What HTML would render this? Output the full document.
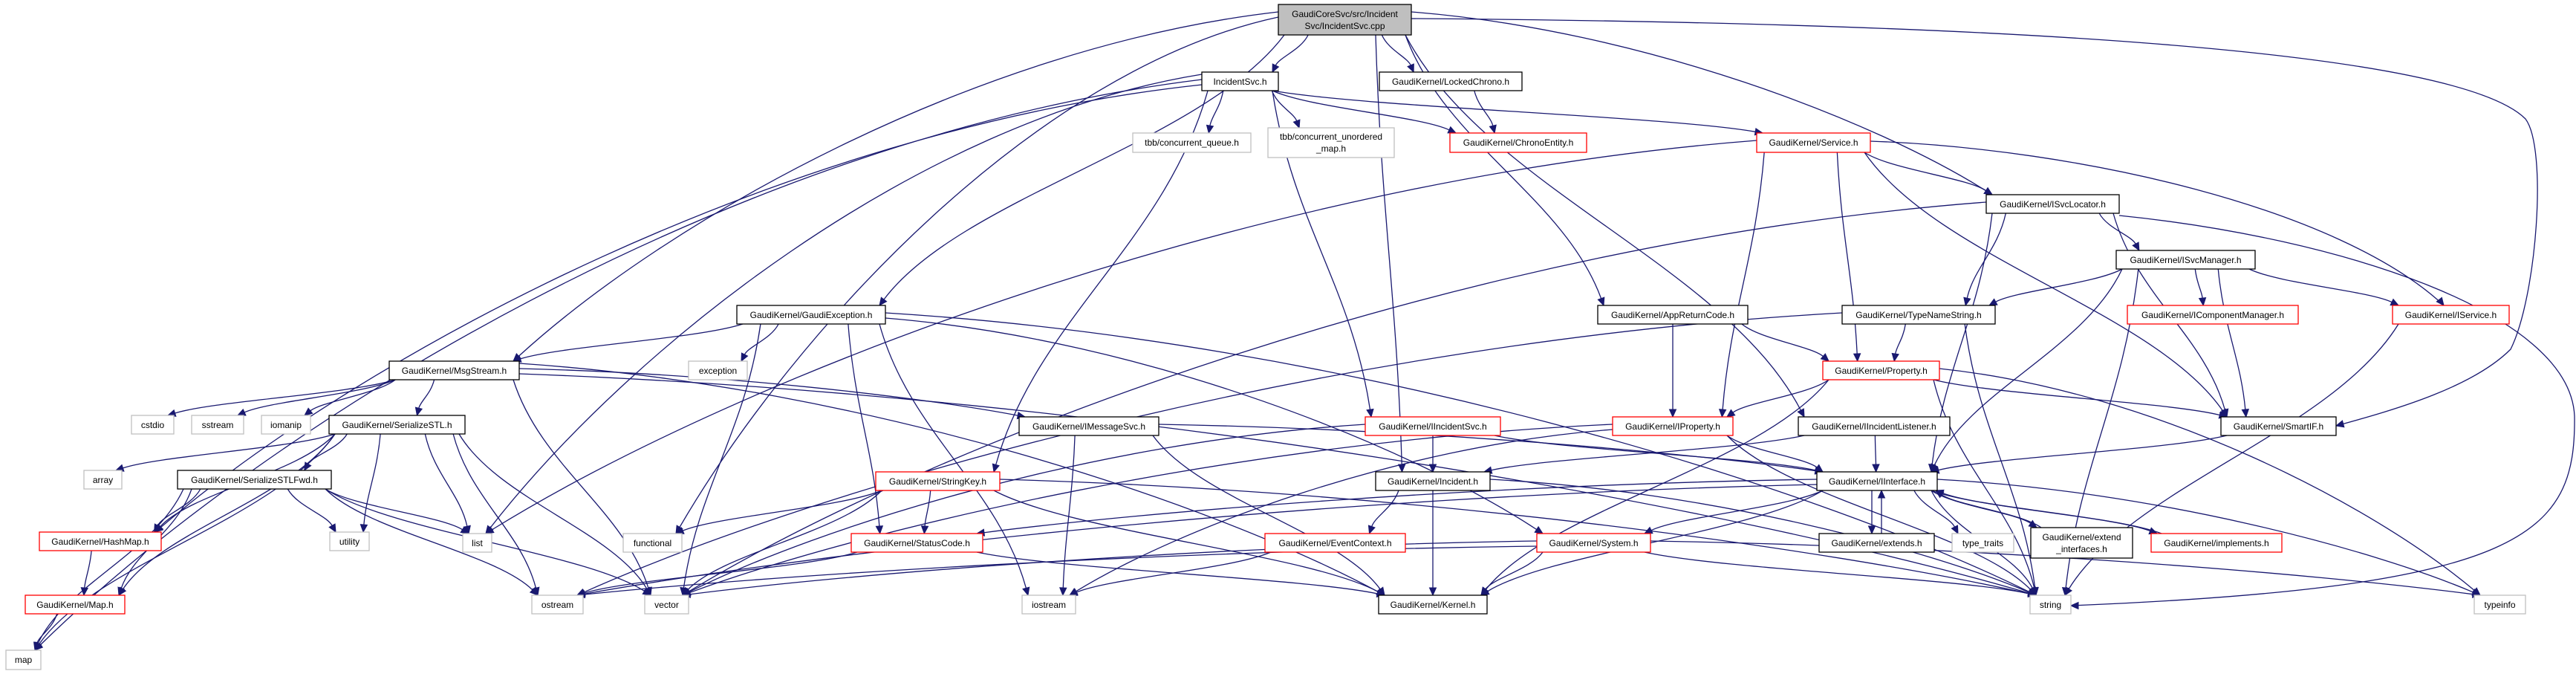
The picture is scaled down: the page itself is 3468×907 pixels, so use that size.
<!DOCTYPE html>
<html><head><meta charset="utf-8">
<style>
html,body{margin:0;padding:0;background:#fff;}
svg{display:block;}
text{font-family:"Liberation Sans",Arial,sans-serif;font-size:12px;fill:#000;}
</style></head>
<body>
<svg id="g" width="3468" height="907" viewBox="0 0 3468 907" xmlns="http://www.w3.org/2000/svg">
<rect width="3468" height="907" fill="#fff"/>
<g id="edges" fill="none" stroke="#191970" stroke-width="1.3"></g>
<g id="arrows" fill="#191970" stroke="#191970"></g>
<g id="nodes" stroke-width="1.3">
<rect x="1721" y="6" width="179" height="41" fill="#bfbfbf" stroke="#000"/><text x="1810.5" y="23" text-anchor="middle">GaudiCoreSvc/src/Incident</text><text x="1810.5" y="39" text-anchor="middle">Svc/IncidentSvc.cpp</text>
<rect x="1618" y="97" width="103" height="25" fill="#fff" stroke="#000"/><text x="1669.5" y="114" text-anchor="middle">IncidentSvc.h</text>
<rect x="1857" y="97" width="192" height="25" fill="#fff" stroke="#000"/><text x="1953" y="114" text-anchor="middle">GaudiKernel/LockedChrono.h</text>
<rect x="1525" y="179" width="159" height="26" fill="#fff" stroke="#bfbfbf"/><text x="1604.5" y="196" text-anchor="middle">tbb/concurrent_queue.h</text>
<rect x="1707" y="172" width="170" height="40" fill="#fff" stroke="#bfbfbf"/><text x="1792" y="188" text-anchor="middle">tbb/concurrent_unordered</text><text x="1792" y="204" text-anchor="middle">_map.h</text>
<rect x="1952" y="179" width="184" height="26" fill="#fff" stroke="#f00"/><text x="2044" y="196" text-anchor="middle">GaudiKernel/ChronoEntity.h</text>
<rect x="2365" y="179" width="153" height="26" fill="#fff" stroke="#f00"/><text x="2441.5" y="196" text-anchor="middle">GaudiKernel/Service.h</text>
<rect x="2674" y="262" width="179" height="25" fill="#fff" stroke="#000"/><text x="2763.5" y="279" text-anchor="middle">GaudiKernel/ISvcLocator.h</text>
<rect x="2849" y="337" width="187" height="25" fill="#fff" stroke="#000"/><text x="2942.5" y="354" text-anchor="middle">GaudiKernel/ISvcManager.h</text>
<rect x="2864" y="411" width="230" height="25" fill="#fff" stroke="#f00"/><text x="2979" y="428" text-anchor="middle">GaudiKernel/IComponentManager.h</text>
<rect x="3221" y="411" width="157" height="25" fill="#fff" stroke="#f00"/><text x="3299.5" y="428" text-anchor="middle">GaudiKernel/IService.h</text>
<rect x="992" y="411" width="200" height="25" fill="#fff" stroke="#000"/><text x="1092" y="428" text-anchor="middle">GaudiKernel/GaudiException.h</text>
<rect x="2151" y="411" width="202" height="25" fill="#fff" stroke="#000"/><text x="2252" y="428" text-anchor="middle">GaudiKernel/AppReturnCode.h</text>
<rect x="2480" y="411" width="206" height="25" fill="#fff" stroke="#000"/><text x="2583" y="428" text-anchor="middle">GaudiKernel/TypeNameString.h</text>
<rect x="524" y="486" width="175" height="25" fill="#fff" stroke="#000"/><text x="611.5" y="503" text-anchor="middle">GaudiKernel/MsgStream.h</text>
<rect x="927" y="486" width="79" height="25" fill="#fff" stroke="#bfbfbf"/><text x="966.5" y="503" text-anchor="middle">exception</text>
<rect x="2454" y="486" width="157" height="25" fill="#fff" stroke="#f00"/><text x="2532.5" y="503" text-anchor="middle">GaudiKernel/Property.h</text>
<rect x="177" y="559" width="57" height="25" fill="#fff" stroke="#bfbfbf"/><text x="205.5" y="576" text-anchor="middle">cstdio</text>
<rect x="258" y="559" width="70" height="25" fill="#fff" stroke="#bfbfbf"/><text x="293" y="576" text-anchor="middle">sstream</text>
<rect x="352" y="559" width="66" height="25" fill="#fff" stroke="#bfbfbf"/><text x="385" y="576" text-anchor="middle">iomanip</text>
<rect x="443" y="559" width="183" height="25" fill="#fff" stroke="#000"/><text x="534.5" y="576" text-anchor="middle">GaudiKernel/SerializeSTL.h</text>
<rect x="1372" y="561" width="188" height="25" fill="#fff" stroke="#000"/><text x="1466" y="578" text-anchor="middle">GaudiKernel/IMessageSvc.h</text>
<rect x="1838" y="561" width="182" height="25" fill="#fff" stroke="#f00"/><text x="1929" y="578" text-anchor="middle">GaudiKernel/IIncidentSvc.h</text>
<rect x="2171" y="561" width="162" height="25" fill="#fff" stroke="#f00"/><text x="2252" y="578" text-anchor="middle">GaudiKernel/IProperty.h</text>
<rect x="2421" y="561" width="204" height="25" fill="#fff" stroke="#000"/><text x="2523" y="578" text-anchor="middle">GaudiKernel/IIncidentListener.h</text>
<rect x="2990" y="561" width="155" height="25" fill="#fff" stroke="#000"/><text x="3067.5" y="578" text-anchor="middle">GaudiKernel/SmartIF.h</text>
<rect x="113" y="633" width="51" height="25" fill="#fff" stroke="#bfbfbf"/><text x="138.5" y="650" text-anchor="middle">array</text>
<rect x="239" y="633" width="207" height="25" fill="#fff" stroke="#000"/><text x="342.5" y="650" text-anchor="middle">GaudiKernel/SerializeSTLFwd.h</text>
<rect x="1179" y="635" width="167" height="25" fill="#fff" stroke="#f00"/><text x="1262.5" y="652" text-anchor="middle">GaudiKernel/StringKey.h</text>
<rect x="1852" y="635" width="154" height="25" fill="#fff" stroke="#000"/><text x="1929" y="652" text-anchor="middle">GaudiKernel/Incident.h</text>
<rect x="2446" y="635" width="162" height="25" fill="#fff" stroke="#000"/><text x="2527" y="652" text-anchor="middle">GaudiKernel/IInterface.h</text>
<rect x="53" y="716" width="164" height="25" fill="#fff" stroke="#f00"/><text x="135" y="733" text-anchor="middle">GaudiKernel/HashMap.h</text>
<rect x="444" y="716" width="53" height="25" fill="#fff" stroke="#bfbfbf"/><text x="470.5" y="733" text-anchor="middle">utility</text>
<rect x="623" y="718" width="39" height="25" fill="#fff" stroke="#bfbfbf"/><text x="642.5" y="735" text-anchor="middle">list</text>
<rect x="839" y="718" width="79" height="25" fill="#fff" stroke="#bfbfbf"/><text x="878.5" y="735" text-anchor="middle">functional</text>
<rect x="1146" y="718" width="177" height="25" fill="#fff" stroke="#f00"/><text x="1234.5" y="735" text-anchor="middle">GaudiKernel/StatusCode.h</text>
<rect x="1703" y="718" width="189" height="25" fill="#fff" stroke="#f00"/><text x="1797.5" y="735" text-anchor="middle">GaudiKernel/EventContext.h</text>
<rect x="2069" y="718" width="153" height="25" fill="#fff" stroke="#f00"/><text x="2145.5" y="735" text-anchor="middle">GaudiKernel/System.h</text>
<rect x="2449" y="718" width="155" height="25" fill="#fff" stroke="#000"/><text x="2526.5" y="735" text-anchor="middle">GaudiKernel/extends.h</text>
<rect x="2628" y="718" width="83" height="25" fill="#fff" stroke="#bfbfbf"/><text x="2669.5" y="735" text-anchor="middle">type_traits</text>
<rect x="2734" y="710" width="137" height="41" fill="#fff" stroke="#000"/><text x="2802.5" y="727" text-anchor="middle">GaudiKernel/extend</text><text x="2802.5" y="743" text-anchor="middle">_interfaces.h</text>
<rect x="2896" y="718" width="176" height="25" fill="#fff" stroke="#f00"/><text x="2984" y="735" text-anchor="middle">GaudiKernel/implements.h</text>
<rect x="34" y="801" width="134" height="25" fill="#fff" stroke="#f00"/><text x="101" y="818" text-anchor="middle">GaudiKernel/Map.h</text>
<rect x="716" y="801" width="69" height="25" fill="#fff" stroke="#bfbfbf"/><text x="750.5" y="818" text-anchor="middle">ostream</text>
<rect x="868" y="801" width="59" height="25" fill="#fff" stroke="#bfbfbf"/><text x="897.5" y="818" text-anchor="middle">vector</text>
<rect x="1376" y="801" width="72" height="25" fill="#fff" stroke="#bfbfbf"/><text x="1412" y="818" text-anchor="middle">iostream</text>
<rect x="1856" y="801" width="146" height="25" fill="#fff" stroke="#000"/><text x="1929" y="818" text-anchor="middle">GaudiKernel/Kernel.h</text>
<rect x="2733" y="801" width="55" height="25" fill="#fff" stroke="#bfbfbf"/><text x="2760.5" y="818" text-anchor="middle">string</text>
<rect x="3331" y="801" width="69" height="25" fill="#fff" stroke="#bfbfbf"/><text x="3365.5" y="818" text-anchor="middle">typeinfo</text>
<rect x="8" y="875" width="47" height="26" fill="#fff" stroke="#bfbfbf"/><text x="31.5" y="892" text-anchor="middle">map</text>
</g>
</svg>
<script>
var N={
main:[1721,1900,6,47],isvc:[1618,1721,97,122],lock:[1857,2049,97,122],tbbq:[1525,1684,179,205],tbbm:[1707,1877,172,212],
chrono:[1952,2136,179,205],service:[2365,2518,179,205],svcloc:[2674,2853,262,287],svcmgr:[2849,3036,337,362],
compmgr:[2864,3094,411,436],iservice:[3221,3378,411,436],gexc:[992,1192,411,436],appret:[2151,2353,411,436],
tns:[2480,2686,411,436],msg:[524,699,486,511],exc:[927,1006,486,511],prop:[2454,2611,486,511],cstdio:[177,234,559,584],
sstream:[258,328,559,584],iomanip:[352,418,559,584],sstl:[443,626,559,584],imsg:[1372,1560,561,586],iincsvc:[1838,2020,561,586],
iprop:[2171,2333,561,586],iincl:[2421,2625,561,586],smartif:[2990,3145,561,586],array:[113,164,633,658],sstlfwd:[239,446,633,658],
strkey:[1179,1346,635,660],incident:[1852,2006,635,660],iint:[2446,2608,635,660],hashmap:[53,217,716,741],utility:[444,497,716,741],
list:[623,662,718,743],functional:[839,918,718,743],status:[1146,1323,718,743],evctx:[1703,1892,718,743],system:[2069,2222,718,743],
extends:[2449,2604,718,743],tt:[2628,2711,718,743],extint:[2734,2871,710,751],impl:[2896,3072,718,743],mapH:[34,168,801,826],
ostream:[716,785,801,826],vector:[868,927,801,826],iostream:[1376,1448,801,826],kernel:[1856,2002,801,826],string:[2733,2788,801,826],
typeinfo:[3331,3400,801,826],map:[8,55,875,901]};
var E=[
['main','isvc'],['main','lock'],['main','msg'],['main','gexc'],['main','functional'],['main','incident'],['main','appret'],
['main','iincl'],['main','svcloc'],
['lock','chrono'],
['isvc','chrono'],['isvc','service'],['isvc','tbbq'],['isvc','tbbm'],['isvc','iincsvc'],['isvc','strkey'],['isvc','map'],['isvc','hashmap'],['isvc','list'],
['service','svcloc'],['service','smartif'],['service','prop'],['service','iprop'],['service','list'],
['svcloc','svcmgr'],['svcloc','tns'],['svcloc','smartif'],['svcloc','iint'],['svcloc','vector'],
['svcmgr','compmgr'],['svcmgr','iservice'],['svcmgr','tns'],['svcmgr','smartif'],['svcmgr','string'],['svcmgr','iint'],
['tns','prop'],['tns','string'],['tns','ostream'],
['appret','iprop'],['appret','prop'],
['prop','iprop'],['prop','smartif'],['prop','string'],['prop','kernel'],['prop','typeinfo'],
['iprop','iint'],['iprop','vector'],['iprop','string'],['iprop','iostream'],
['iincl','iint'],['iincl','incident'],
['iint','extends'],['iint','tt'],['iint','extint'],['iint','impl'],['iint','system'],['iint','status'],['iint','kernel'],['iint','ostream'],['iint','typeinfo'],['iint','string'],
['extends','iint'],['extint','iint'],['impl','iint'],
['incident','evctx'],['incident','kernel'],['incident','string'],
['iincsvc','incident'],['iincsvc','iint'],['iincsvc','vector'],
['imsg','iint'],['imsg','iostream'],['imsg','kernel'],
['gexc','msg'],['gexc','exc'],['gexc','status'],['gexc','iostream'],['gexc','string'],['gexc','system'],['gexc','vector'],
['msg','cstdio'],['msg','sstream'],['msg','iomanip'],['msg','sstl'],['msg','imsg'],['msg','vector'],['msg','string'],['msg','kernel'],
['sstl','array'],['sstl','sstlfwd'],['sstl','hashmap'],['sstl','mapH'],['sstl','map'],['sstl','utility'],['sstl','list'],['sstl','ostream'],['sstl','vector'],
['sstlfwd','hashmap'],['sstlfwd','mapH'],['sstlfwd','map'],['sstlfwd','utility'],['sstlfwd','list'],['sstlfwd','ostream'],['sstlfwd','vector'],
['hashmap','mapH'],['mapH','map'],
['strkey','functional'],['strkey','status'],['strkey','vector'],['strkey','string'],['strkey','kernel'],
['status','ostream'],['status','kernel'],
['system','vector'],['system','string'],['system','typeinfo'],['system','kernel'],['system','ostream'],
['evctx','iostream'],['smartif','iint'],['iservice','string']
];
var eg=document.getElementById('edges'),ag=document.getElementById('arrows'),ns='http://www.w3.org/2000/svg';
function cl(v,a,b){return Math.max(a,Math.min(b,v));}
function arrow(d,c2x,c2y,tx,ty){
 var vx=tx-c2x,vy=ty-c2y,vl=Math.sqrt(vx*vx+vy*vy)||1;var ux=vx/vl,uy=vy/vl;
 var ex=tx-ux*10,ey=ty-uy*10;
 var p=document.createElementNS(ns,'path');p.setAttribute('d',d+' '+ex+','+ey);eg.appendChild(p);
 var px=-uy,py=ux;var t=document.createElementNS(ns,'polygon');
 t.setAttribute('points',tx+','+ty+' '+(ex+px*4.5)+','+(ey+py*4.5)+' '+(ex-px*4.5)+','+(ey-py*4.5));ag.appendChild(t);
}
var sideCount={};
E.forEach(function(e){
 var a=N[e[0]],b=N[e[1]];
 var acx=(a[0]+a[1])/2,bcx=(b[0]+b[1])/2,sx,sy,tx,ty,side=false;
 var up=b[2]<a[2];
 if(up){
  sx=cl(acx+(bcx-acx)*0.3,a[0]+8,a[1]-8)+6;sy=a[2];tx=cl(bcx+(acx-bcx)*0.3,b[0]+8,b[1]-8)+6;ty=b[3];
 } else {
  sx=cl(acx+(bcx-acx)*0.35,a[0]+8,a[1]-8);sy=a[3];
  tx=cl(bcx+(acx-bcx)*0.35,b[0]+8,b[1]-8);ty=b[2];
  var span=Math.abs(bcx-acx),h=b[2]-a[3];
  if(span>800&&span>1.2*h){
   side=true;var k=e[0]+(bcx<acx?'L':'R');sideCount[k]=(sideCount[k]||0)+1;
   sx=bcx<acx?a[0]:a[1];var n=sideCount[k];sy=a[2]+Math.min(a[3]-a[2]-3,3+((n*7)%(a[3]-a[2]-4)));
  }
 }
 if(e[0]==='iint'&&e[1]==='extends'){sx=2520;tx=2520;}
 if(e[0]==='extends'&&e[1]==='iint'){sx=2533;tx=2533;}
 var dx=tx-sx,dy=ty-sy,c1x,c1y,c2x=tx-dx*0.2,c2y=ty-dy*0.4;
 if(side){c1x=sx+dx*0.4;c1y=sy+dy*0.1;}else{c1x=sx+dx*0.2;c1y=sy+dy*0.4;}
 arrow('M'+sx+','+sy+' C'+c1x+','+c1y+' '+c2x+','+c2y,c2x,c2y,tx,ty);
});
arrow('M1900,25 C2600,30 3300,60 3400,160 C3430,200 3415,400 3380,470 C3330,520 3230,550 3145,573',3230,550,3145,573);
arrow('M2853,290 C3150,320 3460,420 3466,560 C3468,720 3400,790 2788,815',3000,815,2788,815);
arrow('M2518,190 C2800,200 3150,280 3290,411',3250,360,3290,411);
</script>
</body></html>
